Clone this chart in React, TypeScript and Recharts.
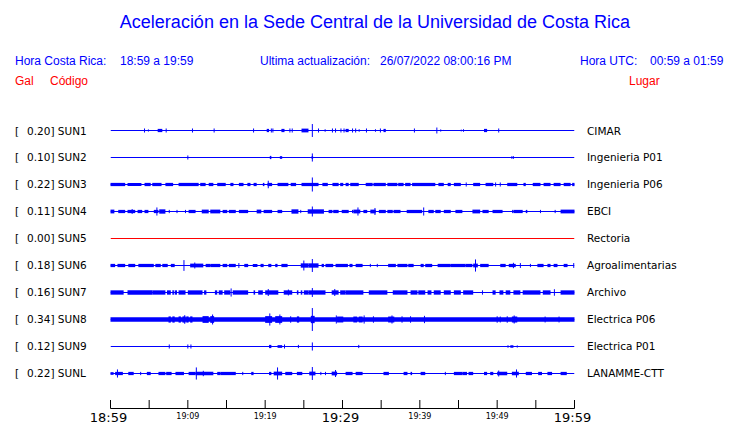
import React from 'react';
import {
  ComposedChart,
  Line,
  XAxis,
  YAxis,
  ReferenceArea,
  ReferenceLine,
} from 'recharts';

// station metadata (top to bottom)
const stationCodes = ['SUN1', 'SUN2', 'SUN3', 'SUN4', 'SUN5', 'SUN6', 'SUN7', 'SUN8', 'SUN9', 'SUNL'];
const peakGal = [0.2, 0.1, 0.22, 0.11, 0.0, 0.18, 0.16, 0.34, 0.12, 0.22];
const stationNames = [
  'CIMAR',
  'Ingenieria P01',
  'Ingenieria P06',
  'EBCI',
  'Rectoria',
  'Agroalimentarias',
  'Archivo',
  'Electrica P06',
  'Electrica P01',
  'LANAMME-CTT',
];

// x axis: minutes after 18:59
const tickMinutes = [0, 5, 10, 15, 20, 25, 30, 35, 40, 45, 50, 55, 60];
const tickLabels = ['18:59', '', '19:09', '', '19:19', '', '19:29', '', '19:39', '', '19:49', '', '19:59'];
const majorTickMinutes = [0, 30, 60];

// bursts per trace: [start min, end min, normalized amplitude]; start === end is a single spike
const sun1: number[][] = [
  [4.4, 4.4, 0.15], [4.9, 4.9, 0.08], [6.1, 6.7, 0.12], [7.2, 7.2, 0.15], [10.6, 10.6, 0.15],
  [13.4, 13.4, 0.15], [18.5, 18.5, 0.15], [20.2, 20.5, 0.12], [20.8, 20.8, 0.15], [21.0, 21.0, 0.15],
  [22.1, 22.5, 0.12], [23.2, 23.2, 0.15], [23.5, 23.5, 0.15], [24.7, 25.6, 0.14], [26.1, 26.1, 0.48],
  [26.9, 26.9, 0.15], [27.7, 27.8, 0.12], [28.7, 28.7, 0.15], [29.1, 29.1, 0.15], [29.8, 29.8, 0.15],
  [30.2, 30.2, 0.15], [30.4, 30.8, 0.12], [31.3, 31.3, 0.15], [31.7, 31.7, 0.15], [32.1, 32.2, 0.12],
  [33.1, 33.1, 0.15], [34.2, 34.3, 0.12], [34.9, 34.9, 0.15], [35.3, 35.6, 0.12], [39.3, 39.3, 0.15],
  [42.2, 42.2, 0.22], [42.7, 42.7, 0.08], [45.3, 45.4, 0.08], [45.6, 45.7, 0.12], [48.3, 48.7, 0.12],
  [50.2, 50.2, 0.15],
];
const sun2: number[][] = [
  [10.0, 10.0, 0.15], [20.6, 20.8, 0.12], [21.9, 22.2, 0.1], [26.0, 26.2, 0.1], [26.1, 26.1, 0.3],
  [51.9, 51.9, 0.1], [52.1, 52.1, 0.1],
];
const sun3: number[][] = [
  [0, 1.9, 0.12], [2.2, 4.0, 0.12], [4.4, 5.2, 0.12], [5.4, 6.6, 0.12], [7.1, 8.1, 0.12],
  [8.8, 11.4, 0.12], [11.6, 12.3, 0.12], [12.7, 13.3, 0.12], [13.8, 14.9, 0.12], [15.5, 15.9, 0.12],
  [16.6, 17.2, 0.12], [17.7, 18.1, 0.12], [18.5, 18.9, 0.12], [19.7, 19.9, 0.12], [20.3, 20.9, 0.12],
  [20.4, 20.4, 0.28], [21.6, 23.0, 0.12], [23.3, 24.0, 0.12], [24.7, 26.9, 0.12], [26.1, 26.1, 0.52],
  [27.4, 28.1, 0.12], [28.7, 29.5, 0.12], [29.7, 30.1, 0.12], [30.4, 30.8, 0.12], [31.0, 32.1, 0.12],
  [33.0, 33.9, 0.12], [34.0, 35.6, 0.12], [35.8, 37.1, 0.12], [37.2, 37.9, 0.12], [38.1, 38.8, 0.12],
  [39.0, 42.0, 0.12], [42.4, 43.1, 0.12], [43.6, 44.0, 0.12], [44.4, 45.3, 0.12], [46.0, 46.0, 0.15],
  [46.9, 47.8, 0.12], [48.5, 49.5, 0.12], [49.8, 49.8, 0.15], [50.4, 50.4, 0.15], [51.3, 52.6, 0.12],
  [53.4, 53.7, 0.12], [54.6, 55.6, 0.12], [56.0, 56.9, 0.12], [57.3, 58.2, 0.12], [58.6, 59.5, 0.12],
  [59.7, 60, 0.12],
];
const sun4: number[][] = [
  [0, 0.5, 0.14], [1.0, 1.9, 0.12], [2.2, 3.2, 0.12], [2.8, 2.8, 0.18], [3.5, 4.1, 0.12],
  [4.4, 4.9, 0.12], [5.6, 6.2, 0.12], [6.0, 6.0, 0.3], [6.3, 7.1, 0.16], [7.6, 7.6, 0.12],
  [8.6, 8.6, 0.12], [9.7, 9.7, 0.12], [10.1, 11.0, 0.12], [11.8, 12.7, 0.14], [12.9, 14.2, 0.14],
  [14.5, 15.1, 0.12], [15.3, 16.2, 0.12], [16.6, 17.8, 0.12], [18.9, 19.5, 0.14], [19.8, 20.9, 0.12],
  [21.6, 22.2, 0.12], [23.4, 24.3, 0.16], [24.6, 24.6, 0.12], [25.5, 27.6, 0.16], [26.1, 26.1, 0.37],
  [28.2, 28.7, 0.12], [28.8, 29.5, 0.12], [29.9, 30.8, 0.12], [31.3, 31.3, 0.12], [31.4, 32.3, 0.14],
  [32.0, 32.0, 0.3], [32.7, 33.2, 0.12], [33.6, 34.3, 0.14], [34.2, 34.2, 0.26], [34.7, 35.6, 0.12],
  [35.8, 36.5, 0.12], [36.6, 37.5, 0.12], [38.3, 40.3, 0.12], [40.5, 40.5, 0.3], [41.1, 41.8, 0.12],
  [42.0, 42.7, 0.12], [43.1, 44.0, 0.12], [44.6, 45.5, 0.12], [46.8, 47.8, 0.14], [48.1, 48.9, 0.12],
  [49.4, 50.7, 0.12], [52.0, 52.0, 0.12], [52.1, 53.3, 0.12], [53.7, 53.9, 0.12], [55.6, 55.6, 0.12],
  [57.5, 57.5, 0.12], [58.2, 60, 0.14],
];
const sun5: number[][] = [];
const sun6: number[][] = [
  [0, 0.6, 0.12], [0.9, 1.9, 0.12], [2.3, 3.2, 0.12], [3.6, 5.6, 0.12], [5.8, 6.5, 0.12],
  [6.7, 7.4, 0.12], [7.8, 8.3, 0.12], [9.5, 9.5, 0.4], [10.3, 12.0, 0.14], [10.9, 10.9, 0.22],
  [12.3, 12.9, 0.12], [12.9, 14.2, 0.12], [14.5, 15.1, 0.12], [15.3, 16.2, 0.12], [16.6, 16.6, 0.18],
  [17.3, 17.8, 0.12], [18.4, 19.0, 0.12], [19.4, 19.8, 0.12], [20.4, 20.8, 0.12], [21.3, 21.6, 0.12],
  [22.1, 22.9, 0.12], [24.6, 25.6, 0.16], [25.0, 25.0, 0.37], [25.6, 26.9, 0.16], [26.1, 26.1, 0.48],
  [27.3, 27.6, 0.12], [27.8, 28.8, 0.12], [29.1, 30.7, 0.12], [30.9, 31.3, 0.12], [31.7, 32.6, 0.12],
  [33.6, 33.6, 0.12], [34.5, 34.5, 0.12], [35.9, 36.9, 0.12], [37.1, 38.4, 0.12], [38.5, 39.2, 0.12],
  [40.1, 40.5, 0.12], [40.7, 41.6, 0.12], [42.3, 44.0, 0.12], [44.0, 45.9, 0.12], [45.9, 46.8, 0.12],
  [46.9, 47.5, 0.14], [47.2, 47.2, 0.45], [47.8, 48.9, 0.12], [50.4, 51.1, 0.12], [51.5, 52.4, 0.12],
  [52.1, 52.1, 0.2], [53.0, 53.0, 0.18], [54.3, 54.3, 0.12], [55.2, 56.0, 0.12], [56.5, 56.9, 0.12],
  [57.3, 57.8, 0.12], [58.6, 59.1, 0.12], [59.9, 59.9, 0.18],
];
const sun7: number[][] = [
  [0, 1.7, 0.16], [2.2, 5.4, 0.16], [5.4, 7.1, 0.16], [7.3, 7.8, 0.16], [8.0, 8.2, 0.16],
  [8.3, 8.6, 0.16], [8.8, 9.7, 0.16], [10.0, 11.9, 0.16], [12.1, 12.4, 0.16], [13.5, 13.8, 0.16],
  [14.0, 14.5, 0.16], [14.7, 15.5, 0.16], [15.6, 15.6, 0.3], [15.8, 17.8, 0.16], [18.5, 18.7, 0.16],
  [19.1, 19.7, 0.16], [20.0, 21.7, 0.16], [20.4, 20.4, 0.26], [22.4, 23.5, 0.16], [23.0, 23.0, 0.22],
  [24.1, 24.3, 0.16], [24.6, 24.8, 0.16], [25.0, 25.6, 0.16], [25.6, 27.8, 0.16], [26.1, 26.1, 0.33],
  [28.6, 29.5, 0.16], [29.0, 29.0, 0.26], [29.7, 30.4, 0.16], [30.4, 32.7, 0.16], [33.4, 35.8, 0.16],
  [36.5, 38.4, 0.16], [38.8, 39.7, 0.16], [39.8, 40.7, 0.16], [41.0, 41.5, 0.16], [41.8, 42.7, 0.16],
  [43.1, 44.0, 0.16], [44.4, 45.3, 0.16], [45.6, 46.9, 0.16], [48.1, 48.1, 0.16], [49.4, 49.8, 0.16],
  [50.3, 50.8, 0.16], [51.1, 51.7, 0.16], [52.1, 53.0, 0.16], [53.3, 55.6, 0.16], [55.9, 56.9, 0.16],
  [57.4, 57.4, 0.24], [58.2, 60, 0.16],
];
const sun8: number[][] = [
  [0, 60, 0.17], [7.5, 7.8, 0.23], [8.0, 8.3, 0.23], [8.8, 9.1, 0.23], [9.3, 9.7, 0.23],
  [9.6, 9.6, 0.32], [9.8, 10.1, 0.23], [10.3, 10.6, 0.23], [11.9, 12.7, 0.25], [12.9, 13.4, 0.25],
  [13.2, 13.2, 0.37], [20.0, 20.9, 0.25], [20.6, 20.6, 0.45], [21.3, 22.2, 0.25], [21.9, 21.9, 0.37],
  [23.3, 23.3, 0.24], [24.1, 24.4, 0.23], [25.9, 26.4, 0.27], [26.1, 26.1, 0.85], [29.2, 29.2, 0.3],
  [29.3, 30.1, 0.22], [31.4, 31.9, 0.22], [32.1, 32.6, 0.22], [32.8, 32.8, 0.3], [34.0, 34.0, 0.24],
  [35.9, 36.7, 0.22], [36.4, 36.4, 0.3], [37.7, 37.7, 0.24], [38.8, 38.8, 0.24], [40.6, 40.6, 0.27],
  [50.0, 50.0, 0.24], [50.4, 50.4, 0.22], [51.3, 51.3, 0.24], [51.9, 52.6, 0.22], [52.2, 52.2, 0.3],
  [56.2, 56.2, 0.22], [58.0, 58.0, 0.22],
];
const sun9: number[][] = [
  [7.6, 7.6, 0.15], [10.0, 10.0, 0.15], [10.4, 10.4, 0.15], [20.5, 20.8, 0.12], [21.6, 22.2, 0.1],
  [22.5, 22.5, 0.15], [24.3, 24.3, 0.12], [26.1, 26.1, 0.3], [32.1, 32.1, 0.12], [51.3, 51.5, 0.08],
  [51.7, 52.1, 0.1], [52.6, 52.6, 0.08],
];
const sunL: number[][] = [
  [0, 0.4, 0.1], [0.6, 1.6, 0.12], [0.9, 0.9, 0.3], [2.3, 3.0, 0.12], [3.9, 3.9, 0.12],
  [4.7, 5.2, 0.12], [6.2, 7.1, 0.12], [7.2, 7.9, 0.12], [8.4, 9.5, 0.12], [10.1, 11.0, 0.12],
  [11.1, 11.1, 0.45], [11.0, 13.3, 0.13], [12.0, 12.0, 0.2], [13.8, 14.2, 0.12], [14.2, 16.2, 0.12],
  [17.1, 17.1, 0.12], [18.2, 18.5, 0.12], [20.5, 20.8, 0.12], [21.1, 22.2, 0.14], [21.6, 21.6, 0.45],
  [22.6, 23.5, 0.12], [24.1, 24.8, 0.12], [25.7, 26.5, 0.14], [26.1, 26.1, 0.48], [27.2, 27.2, 0.12],
  [27.8, 27.8, 0.12], [28.6, 29.3, 0.14], [29.1, 29.1, 0.26], [30.4, 31.3, 0.12], [31.7, 32.6, 0.12],
  [35.3, 36.0, 0.12], [37.9, 38.4, 0.12], [38.8, 39.0, 0.12], [40.1, 40.7, 0.12], [43.3, 43.3, 0.12],
  [44.4, 45.5, 0.12], [45.5, 46.1, 0.12], [46.3, 46.9, 0.12], [48.3, 48.7, 0.12], [49.1, 49.5, 0.12],
  [50.0, 51.3, 0.13], [50.2, 50.2, 0.22], [51.9, 52.8, 0.13], [52.5, 52.5, 0.3], [53.7, 54.5, 0.12],
  [55.3, 55.8, 0.12], [56.5, 57.1, 0.12], [58.2, 59.0, 0.12],
];
const traceEvents = [sun1, sun2, sun3, sun4, sun5, sun6, sun7, sun8, sun9, sunL];

const BLUE = '#0000ff';
const RED = '#ff0000';
const Y_MAX = 20.5926; // two units per trace row; bottom of the plot sits on the time axis
const rowValues = stationCodes.map((_, i) => i * 2);
const traceColor = (i: number) => (peakGal[i] === 0 ? RED : BLUE);

const LeftLabel = (props: any) => {
  const i = Math.round(props.payload.value / 2);
  return (
    <g fontFamily="DejaVu Sans" fontSize={10.5} fill="#000">
      <text x={15} y={props.y + 4}>[</text>
      <text x={27} y={props.y + 4}>
        {peakGal[i].toFixed(2)}] {stationCodes[i]}
      </text>
    </g>
  );
};

const RightLabel = (props: any) => {
  const i = Math.round(props.payload.value / 2);
  return (
    <text x={587} y={props.y + 4} fontFamily="DejaVu Sans" fontSize={10.5} fill="#000">
      {stationNames[i]}
    </text>
  );
};

const TimeTick = (props: any) => {
  const { x, y, index } = props;
  const big = majorTickMinutes.includes(props.payload.value);
  return (
    <g>
      <line x1={x} x2={x} y1={y - 8.5} y2={y} stroke="#000" strokeWidth={1} />
      {tickLabels[index] && (
        <text
          x={big ? x - 2 : x}
          y={big ? y + 13 : y + 10.5}
          textAnchor="middle"
          fontFamily="DejaVu Sans"
          fontSize={big ? 13 : 8}
          fill="#000"
        >
          {tickLabels[index]}
        </text>
      )}
    </g>
  );
};

export default function App() {
  return (
    <div style={{ position: 'absolute', left: 0, top: 0, width: 740, height: 423, background: '#fff' }}>
      <ComposedChart
        width={740}
        height={423}
        margin={{ top: 117, right: 0, bottom: 0, left: 0 }}
      >
        <XAxis
          dataKey="t"
          type="number"
          domain={[0, 60]}
          ticks={tickMinutes}
          interval={0}
          allowDataOverflow
          height={14.5}
          tickSize={0}
          tickMargin={0}
          tickLine={false}
          axisLine={{ stroke: '#000', strokeWidth: 1 }}
          tick={<TimeTick />}
        />
        <YAxis
          type="number"
          domain={[-1, Y_MAX]}
          reversed
          allowDataOverflow
          width={110.5}
          ticks={rowValues}
          interval={0}
          axisLine={false}
          tickLine={false}
          tick={<LeftLabel />}
        />
        <YAxis
          yAxisId="right"
          orientation="right"
          type="number"
          domain={[-1, Y_MAX]}
          reversed
          allowDataOverflow
          width={165.5}
          ticks={rowValues}
          interval={0}
          axisLine={false}
          tickLine={false}
          tick={<RightLabel />}
        />
        {rowValues.map((v, i) => (
          <Line
            key={'base' + i}
            data={[{ t: 0, v }, { t: 60, v }]}
            dataKey="v"
            stroke={traceColor(i)}
            strokeWidth={1}
            dot={false}
            activeDot={false}
            isAnimationActive={false}
          />
        ))}
        {traceEvents.map((events, i) =>
          events.map(([t0, t1, a], j) =>
            t0 === t1 ? (
              <ReferenceLine
                key={`s${i}-${j}`}
                segment={[
                  { x: t0, y: rowValues[i] - a },
                  { x: t0, y: rowValues[i] + a },
                ]}
                stroke={traceColor(i)}
                strokeWidth={1}
              />
            ) : (
              <ReferenceArea
                key={`b${i}-${j}`}
                x1={t0}
                x2={t1}
                y1={rowValues[i] - a}
                y2={rowValues[i] + a}
                fill={traceColor(i)}
                fillOpacity={1}
                stroke="none"
              />
            )
          )
        )}
      </ComposedChart>
      <svg
        width={740}
        height={423}
        style={{ position: 'absolute', left: 0, top: 0, pointerEvents: 'none' }}
        fontFamily="Liberation Sans"
      >
        <text x={375} y={28} textAnchor="middle" fontSize={18} fill={BLUE}>
          Aceleración en la Sede Central de la Universidad de Costa Rica
        </text>
        <g fontSize={12} fill={BLUE}>
          <text x={15} y={65}>Hora Costa Rica:</text>
          <text x={120} y={65}>18:59 a 19:59</text>
          <text x={260} y={65}>Ultima actualización:</text>
          <text x={380} y={65}>26/07/2022 08:00:16 PM</text>
          <text x={580} y={65}>Hora UTC:</text>
          <text x={650} y={65}>00:59 a 01:59</text>
        </g>
        <g fontSize={12} fill={RED}>
          <text x={15} y={85}>Gal</text>
          <text x={50} y={85}>Código</text>
          <text x={629} y={85}>Lugar</text>
        </g>
      </svg>
    </div>
  );
}
